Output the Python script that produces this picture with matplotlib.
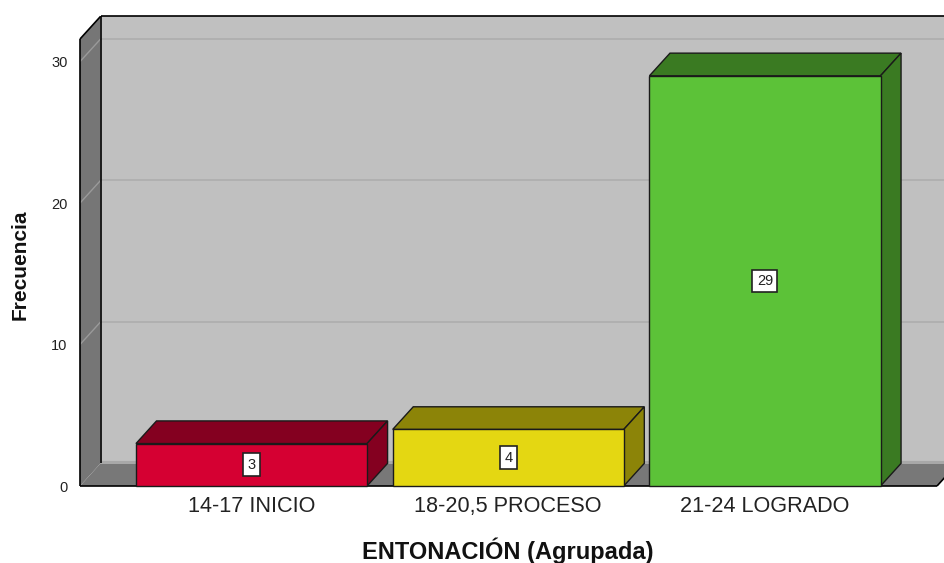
import matplotlib
matplotlib.use('Agg')
import matplotlib.pyplot as plt
from matplotlib.patches import Polygon

plt.rcParams['font.family'] = ['Liberation Sans', 'DejaVu Sans']

# Data
categories = ['14-17 INICIO', '18-20,5 PROCESO', '21-24 LOGRADO']
counts = [3, 4, 29]
y_ticks = [0, 10, 20, 30]

front_colors = ['#D50032', '#E4D712', '#5CC238']
dark_colors = ['#840020', '#8C8408', '#3A7A22']

# 3D look: depth offset in data units
DX = 0.08
DY = 1.6
X0, X1 = -0.668, 2.670
YTOP = 31.6
BW = 0.45

fig = plt.figure(figsize=(9.44, 5.63), dpi=100)
ax = fig.add_axes([80 / 944, 77 / 563, (937 - 80) / 944, 447 / 563])
ax.set_xlim(X0, X1)
ax.set_ylim(0, YTOP)
ax.patch.set_visible(False)
for s in ax.spines.values():
    s.set_visible(False)


def poly(pts, fc, ec='none', lw=0, z=1):
    p = Polygon(pts, closed=True, facecolor=fc, edgecolor=ec, linewidth=lw,
                zorder=z, clip_on=False)
    ax.add_patch(p)


def line(xs, ys, c='black', lw=1.2, z=3):
    ax.plot(xs, ys, color=c, lw=lw, zorder=z, clip_on=False,
            solid_capstyle='butt')


# back wall, side wall, floor
poly([(X0 + DX, DY), (X1 + DX + 1, DY), (X1 + DX + 1, YTOP + DY), (X0 + DX, YTOP + DY)], '#C0C0C0')
poly([(X0, 0), (X0 + DX, DY), (X0 + DX, YTOP + DY), (X0, YTOP)], '#767676')
poly([(X0, 0), (X1, 0), (X1 + DX, DY), (X0 + DX, DY)], '#787878')
line([X0 + DX, X1 + DX + 1], [DY + 0.1, DY + 0.1], c='#A8A8A8', lw=1.5, z=1.5)

# gridlines
for v in y_ticks[1:]:
    line([X0 + DX, X1 + DX + 1], [v + DY, v + DY], c='#ADADAD', lw=1.2, z=1.5)
    line([X0, X0 + DX], [v, v + DY], c='#9A9A9A', lw=1.0, z=1.5)

# frame edges
line([X0, X0], [0, YTOP])
line([X0, X0 + DX], [YTOP, YTOP + DY])
line([X0 + DX, X1 + DX + 1], [YTOP + DY, YTOP + DY])
line([X0 + DX, X0 + DX], [DY, YTOP + DY])
line([X0, X1], [0, 0])
line([X1, X1 + DX], [0, DY])

# bars
for i, (v, fc, dc) in enumerate(zip(counts, front_colors, dark_colors)):
    l, r = i - BW, i + BW
    poly([(l, v), (r, v), (r + DX, v + DY), (l + DX, v + DY)], dc, '#1A1A1A', 1.0, 4)
    poly([(r, 0), (r + DX, DY), (r + DX, v + DY), (r, v)], dc, '#1A1A1A', 1.0, 4)
    poly([(l, 0), (r, 0), (r, v), (l, v)], fc, '#1A1A1A', 1.0, 5)
    ax.text(i, v / 2, str(v), ha='center', va='center', fontsize=10.5, zorder=6,
            color='#222222',
            bbox=dict(boxstyle='square,pad=0.3', facecolor='white',
                      edgecolor='#222222', linewidth=1.2))

ax.set_xticks(range(len(categories)))
ax.set_xticklabels(categories, fontsize=15.6, color='#222222')
ax.set_yticks(y_ticks)
ax.set_yticklabels([str(t) for t in y_ticks], fontsize=10.5, color='#222222')
ax.tick_params(axis='x', length=0, pad=7)
ax.tick_params(axis='y', length=0, pad=9)

fig.text(20 / 944, 1 - 265 / 563, 'Frecuencia', rotation=90, ha='center',
         va='center', fontsize=15, fontweight='bold', color='#111111')
fig.text(508 / 944, 1 - 551 / 563, 'ENTONACIÓN (Agrupada)', ha='center',
         va='center', fontsize=17, fontweight='bold', color='#111111')

fig.savefig('out.png', dpi=100, facecolor='white')
